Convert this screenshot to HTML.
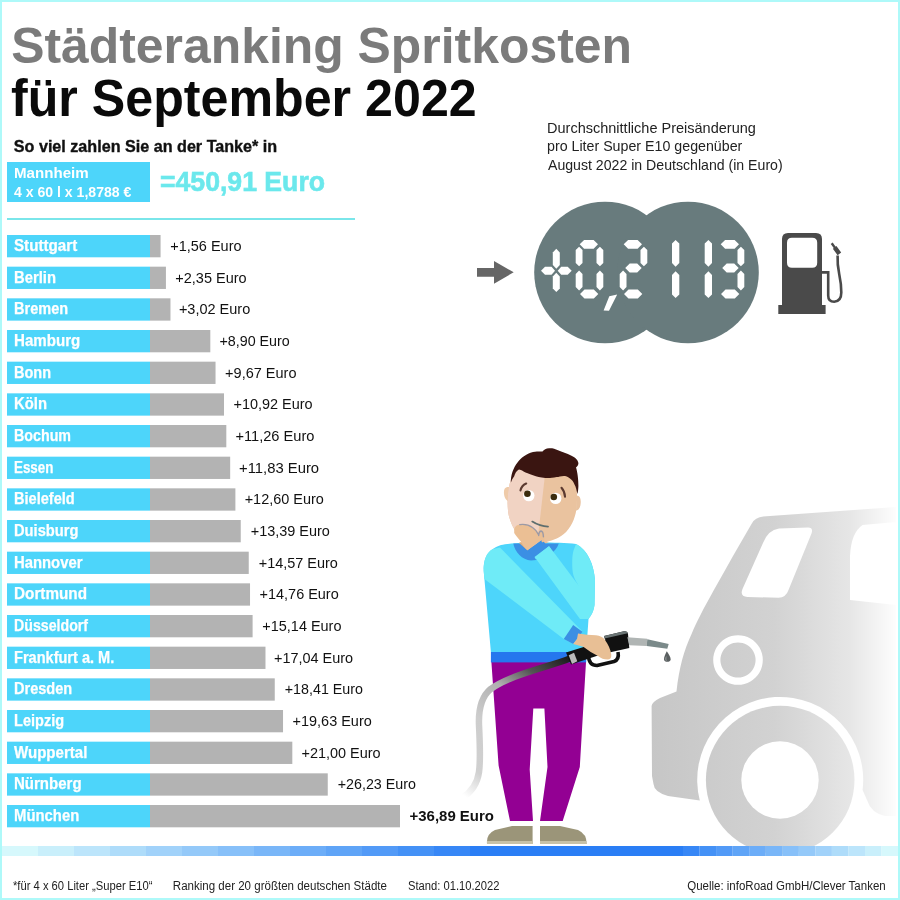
<!DOCTYPE html>
<html><head><meta charset="utf-8"><style>
html,body{margin:0;padding:0;background:#fff;width:900px;height:900px;overflow:hidden}
svg{display:block;will-change:transform}
text{font-family:"Liberation Sans",sans-serif}
</style></head><body>
<svg width="900" height="900" viewBox="0 0 900 900">
<rect x="0" y="0" width="900" height="900" fill="#fff"/>
<text id="title1" x="11.20" y="62.7" font-size="50.5" font-weight="bold" fill="#7b7b7b" textLength="620.78" lengthAdjust="spacingAndGlyphs">Städteranking Spritkosten</text>
<text id="title2" x="11.00" y="115.5" font-size="51" font-weight="bold" fill="#0a0a0a" textLength="465.69" lengthAdjust="spacingAndGlyphs">für September 2022</text>
<text id="sub" x="13.80" y="151.5" font-size="16.5" font-weight="bold" fill="#111" stroke="#111" stroke-width="0.35" textLength="263.39" lengthAdjust="spacingAndGlyphs">So viel zahlen Sie an der Tanke* in</text>
<rect x="7" y="162" width="143" height="40" fill="#4dd5fa"/>
<text id="mann1" x="14.00" y="178" font-size="15.5" font-weight="bold" fill="#fff" textLength="74.71" lengthAdjust="spacingAndGlyphs">Mannheim</text>
<text id="mann2" x="14.00" y="196.5" font-size="15" font-weight="bold" fill="#fff" textLength="117.41" lengthAdjust="spacingAndGlyphs">4 x 60 l x 1,8788 €</text>
<text id="eq" x="160.00" y="190.8" font-size="28" font-weight="bold" fill="#6be8ec" stroke="#6be8ec" stroke-width="0.6" textLength="165.01" lengthAdjust="spacingAndGlyphs">=450,91 Euro</text>
<rect x="7" y="218" width="348" height="2" fill="#7ae6ea"/>
<text id="r1" x="547.00" y="132.8" font-size="15" fill="#222" textLength="208.87" lengthAdjust="spacingAndGlyphs">Durchschnittliche Preisänderung</text>
<text id="r2" x="547.00" y="151.2" font-size="15" fill="#222" textLength="195.34" lengthAdjust="spacingAndGlyphs">pro Liter Super E10 gegenüber</text>
<text id="r3" x="548.00" y="169.8" font-size="15" fill="#222" textLength="234.64" lengthAdjust="spacingAndGlyphs">August 2022 in Deutschland (in Euro)</text>
<rect x="7" y="235.00" width="143" height="22.3" fill="#4dd5fa"/><rect x="150" y="235.00" width="10.57" height="22.3" fill="#b3b3b3"/>
<text id="city0" x="14.00" y="251.0" font-size="15.6" font-weight="bold" fill="#fff" stroke="#fff" stroke-width="0.25" textLength="63.18" lengthAdjust="spacingAndGlyphs">Stuttgart</text>
<text id="val0" x="170.21" y="251.0" font-size="15" fill="#111" textLength="71.39" lengthAdjust="spacingAndGlyphs">+1,56 Euro</text>
<rect x="7" y="266.67" width="143" height="22.3" fill="#4dd5fa"/><rect x="150" y="266.67" width="15.93" height="22.3" fill="#b3b3b3"/>
<text id="city1" x="14.00" y="282.67" font-size="15.6" font-weight="bold" fill="#fff" stroke="#fff" stroke-width="0.25" textLength="41.95" lengthAdjust="spacingAndGlyphs">Berlin</text>
<text id="val1" x="175.28" y="282.67" font-size="15" fill="#111" textLength="71.35" lengthAdjust="spacingAndGlyphs">+2,35 Euro</text>
<rect x="7" y="298.33" width="143" height="22.3" fill="#4dd5fa"/><rect x="150" y="298.33" width="20.47" height="22.3" fill="#b3b3b3"/>
<text id="city2" x="14.00" y="314.33" font-size="15.6" font-weight="bold" fill="#fff" stroke="#fff" stroke-width="0.25" textLength="54.09" lengthAdjust="spacingAndGlyphs">Bremen</text>
<text id="val2" x="178.90" y="314.33" font-size="15" fill="#111" textLength="71.38" lengthAdjust="spacingAndGlyphs">+3,02 Euro</text>
<rect x="7" y="330.00" width="143" height="22.3" fill="#4dd5fa"/><rect x="150" y="330.00" width="60.32" height="22.3" fill="#b3b3b3"/>
<text id="city3" x="14.00" y="346.0" font-size="15.6" font-weight="bold" fill="#fff" stroke="#fff" stroke-width="0.25" textLength="66.25" lengthAdjust="spacingAndGlyphs">Hamburg</text>
<text id="val3" x="219.45" y="346.0" font-size="15" fill="#111" textLength="70.33" lengthAdjust="spacingAndGlyphs">+8,90 Euro</text>
<rect x="7" y="361.67" width="143" height="22.3" fill="#4dd5fa"/><rect x="150" y="361.67" width="65.53" height="22.3" fill="#b3b3b3"/>
<text id="city4" x="14.00" y="377.67" font-size="15.6" font-weight="bold" fill="#fff" stroke="#fff" stroke-width="0.25" textLength="37.04" lengthAdjust="spacingAndGlyphs">Bonn</text>
<text id="val4" x="225.10" y="377.67" font-size="15" fill="#111" textLength="71.39" lengthAdjust="spacingAndGlyphs">+9,67 Euro</text>
<rect x="7" y="393.34" width="143" height="22.3" fill="#4dd5fa"/><rect x="150" y="393.34" width="74.00" height="22.3" fill="#b3b3b3"/>
<text id="city5" x="14.00" y="409.34" font-size="15.6" font-weight="bold" fill="#fff" stroke="#fff" stroke-width="0.25" textLength="32.95" lengthAdjust="spacingAndGlyphs">Köln</text>
<text id="val5" x="233.51" y="409.34" font-size="15" fill="#111" textLength="79.15" lengthAdjust="spacingAndGlyphs">+10,92 Euro</text>
<rect x="7" y="425.00" width="143" height="22.3" fill="#4dd5fa"/><rect x="150" y="425.00" width="76.31" height="22.3" fill="#b3b3b3"/>
<text id="city6" x="14.00" y="441.0" font-size="15.6" font-weight="bold" fill="#fff" stroke="#fff" stroke-width="0.25" textLength="57.00" lengthAdjust="spacingAndGlyphs">Bochum</text>
<text id="val6" x="235.43" y="441.0" font-size="15" fill="#111" textLength="79.07" lengthAdjust="spacingAndGlyphs">+11,26 Euro</text>
<rect x="7" y="456.67" width="143" height="22.3" fill="#4dd5fa"/><rect x="150" y="456.67" width="80.17" height="22.3" fill="#b3b3b3"/>
<text id="city7" x="14.00" y="472.67" font-size="15.6" font-weight="bold" fill="#fff" stroke="#fff" stroke-width="0.25" textLength="39.39" lengthAdjust="spacingAndGlyphs">Essen</text>
<text id="val7" x="239.01" y="472.67" font-size="15" fill="#111" textLength="80.11" lengthAdjust="spacingAndGlyphs">+11,83 Euro</text>
<rect x="7" y="488.34" width="143" height="22.3" fill="#4dd5fa"/><rect x="150" y="488.34" width="85.39" height="22.3" fill="#b3b3b3"/>
<text id="city8" x="14.00" y="504.34" font-size="15.6" font-weight="bold" fill="#fff" stroke="#fff" stroke-width="0.25" textLength="60.74" lengthAdjust="spacingAndGlyphs">Bielefeld</text>
<text id="val8" x="244.67" y="504.34" font-size="15" fill="#111" textLength="79.18" lengthAdjust="spacingAndGlyphs">+12,60 Euro</text>
<rect x="7" y="520.00" width="143" height="22.3" fill="#4dd5fa"/><rect x="150" y="520.00" width="90.74" height="22.3" fill="#b3b3b3"/>
<text id="city9" x="14.00" y="536.0" font-size="15.6" font-weight="bold" fill="#fff" stroke="#fff" stroke-width="0.25" textLength="64.42" lengthAdjust="spacingAndGlyphs">Duisburg</text>
<text id="val9" x="250.73" y="536.0" font-size="15" fill="#111" textLength="79.15" lengthAdjust="spacingAndGlyphs">+13,39 Euro</text>
<rect x="7" y="551.67" width="143" height="22.3" fill="#4dd5fa"/><rect x="150" y="551.67" width="98.74" height="22.3" fill="#b3b3b3"/>
<text id="city10" x="14.00" y="567.67" font-size="15.6" font-weight="bold" fill="#fff" stroke="#fff" stroke-width="0.25" textLength="68.48" lengthAdjust="spacingAndGlyphs">Hannover</text>
<text id="val10" x="258.72" y="567.67" font-size="15" fill="#111" textLength="79.15" lengthAdjust="spacingAndGlyphs">+14,57 Euro</text>
<rect x="7" y="583.34" width="143" height="22.3" fill="#4dd5fa"/><rect x="150" y="583.34" width="100.03" height="22.3" fill="#b3b3b3"/>
<text id="city11" x="14.00" y="599.34" font-size="15.6" font-weight="bold" fill="#fff" stroke="#fff" stroke-width="0.25" textLength="73.04" lengthAdjust="spacingAndGlyphs">Dortmund</text>
<text id="val11" x="259.59" y="599.34" font-size="15" fill="#111" textLength="79.15" lengthAdjust="spacingAndGlyphs">+14,76 Euro</text>
<rect x="7" y="615.00" width="143" height="22.3" fill="#4dd5fa"/><rect x="150" y="615.00" width="102.60" height="22.3" fill="#b3b3b3"/>
<text id="city12" x="14.00" y="631.0" font-size="15.6" font-weight="bold" fill="#fff" stroke="#fff" stroke-width="0.25" textLength="74.02" lengthAdjust="spacingAndGlyphs">Düsseldorf</text>
<text id="val12" x="262.31" y="631.0" font-size="15" fill="#111" textLength="79.18" lengthAdjust="spacingAndGlyphs">+15,14 Euro</text>
<rect x="7" y="646.67" width="143" height="22.3" fill="#4dd5fa"/><rect x="150" y="646.67" width="115.48" height="22.3" fill="#b3b3b3"/>
<text id="city13" x="14.00" y="662.67" font-size="15.6" font-weight="bold" fill="#fff" stroke="#fff" stroke-width="0.25" textLength="100.27" lengthAdjust="spacingAndGlyphs">Frankfurt a. M.</text>
<text id="val13" x="273.94" y="662.67" font-size="15" fill="#111" textLength="79.19" lengthAdjust="spacingAndGlyphs">+17,04 Euro</text>
<rect x="7" y="678.34" width="143" height="22.3" fill="#4dd5fa"/><rect x="150" y="678.34" width="124.76" height="22.3" fill="#b3b3b3"/>
<text id="city14" x="14.00" y="694.34" font-size="15.6" font-weight="bold" fill="#fff" stroke="#fff" stroke-width="0.25" textLength="58.25" lengthAdjust="spacingAndGlyphs">Dresden</text>
<text id="val14" x="284.79" y="694.34" font-size="15" fill="#111" textLength="78.13" lengthAdjust="spacingAndGlyphs">+18,41 Euro</text>
<rect x="7" y="710.00" width="143" height="22.3" fill="#4dd5fa"/><rect x="150" y="710.00" width="133.03" height="22.3" fill="#b3b3b3"/>
<text id="city15" x="14.00" y="726.0" font-size="15.6" font-weight="bold" fill="#fff" stroke="#fff" stroke-width="0.25" textLength="50.11" lengthAdjust="spacingAndGlyphs">Leipzig</text>
<text id="val15" x="292.60" y="726.0" font-size="15" fill="#111" textLength="79.15" lengthAdjust="spacingAndGlyphs">+19,63 Euro</text>
<rect x="7" y="741.67" width="143" height="22.3" fill="#4dd5fa"/><rect x="150" y="741.67" width="142.32" height="22.3" fill="#b3b3b3"/>
<text id="city16" x="14.00" y="757.67" font-size="15.6" font-weight="bold" fill="#fff" stroke="#fff" stroke-width="0.25" textLength="73.35" lengthAdjust="spacingAndGlyphs">Wuppertal</text>
<text id="val16" x="301.45" y="757.67" font-size="15" fill="#111" textLength="79.15" lengthAdjust="spacingAndGlyphs">+21,00 Euro</text>
<rect x="7" y="773.34" width="143" height="22.3" fill="#4dd5fa"/><rect x="150" y="773.34" width="177.76" height="22.3" fill="#b3b3b3"/>
<text id="city17" x="14.00" y="789.34" font-size="15.6" font-weight="bold" fill="#fff" stroke="#fff" stroke-width="0.25" textLength="67.56" lengthAdjust="spacingAndGlyphs">Nürnberg</text>
<text id="val17" x="337.78" y="789.34" font-size="15" fill="#111" textLength="78.13" lengthAdjust="spacingAndGlyphs">+26,23 Euro</text>
<rect x="7" y="805.01" width="143" height="22.3" fill="#4dd5fa"/><rect x="150" y="805.01" width="250.00" height="22.3" fill="#b3b3b3"/>
<text id="city18" x="14.00" y="821.01" font-size="15.6" font-weight="bold" fill="#fff" stroke="#fff" stroke-width="0.25" textLength="65.25" lengthAdjust="spacingAndGlyphs">München</text>
<text id="val18" x="409.51" y="821.01" font-size="15" font-weight="bold" fill="#111" textLength="84.48" lengthAdjust="spacingAndGlyphs">+36,89 Euro</text>
<!-- ARROW -->
<path d="M477 268 H494 V261 L513.7 272.3 L494 283.7 V276.7 H477 Z" fill="#666"/>
<!-- CIRCLES -->
<circle cx="605" cy="272.5" r="70.8" fill="#687b7d"/>
<circle cx="688" cy="272.5" r="70.8" fill="#687b7d"/>
<!-- DIGITS -->
<g fill="#fff">
<!-- plus -->
<path d="M556.3 248.7 L559.8 252.5 L559.8 265 L556.3 268.7 L552.8 265 L552.8 252.5 Z"/>
<path d="M556.3 272.7 L559.8 276.5 L559.8 288.5 L556.3 292 L552.8 288.5 L552.8 276.5 Z"/>
<path d="M541 270.7 L545 266.7 L551.5 266.7 L555 270.7 L551.5 274.7 L545 274.7 Z"/>
<path d="M557.7 270.7 L561.2 266.7 L567.7 266.7 L571.7 270.7 L567.7 274.7 L561.2 274.7 Z"/>
</g>
<!-- PUMP -->
<g fill="#4a4a4a">
<path d="M782 305.6 V239 Q782 233 788 233 H816 Q822 233 822 239 V305.6 Z M792 237.8 Q787 237.8 787 242.8 V262.8 Q787 267.8 792 267.8 H812.2 Q817.2 267.8 817.2 262.8 V242.8 Q817.2 237.8 812.2 237.8 Z" fill-rule="evenodd"/>
<rect x="778.3" y="305" width="47.3" height="9"/>
</g>
<path d="M822 272.4 H828.2 V295.5 Q828.2 301.8 834.2 301.8 Q841.3 301.3 841.3 292.5 Q841.3 284 839.2 274 Q837.2 264 837.6 255.5" fill="none" stroke="#4a4a4a" stroke-width="2.6"/>
<path d="M832.67 242.59 L836.20 247.44 L834.26 248.86 L830.73 244.01 Z M836.42 246.06 L841.18 252.61 L837.62 255.19 L832.86 248.64 Z" fill="#4a4a4a"/>
<!-- CAR -->
<defs>
<linearGradient id="carg" gradientUnits="userSpaceOnUse" x1="650" y1="0" x2="900" y2="0">
<stop offset="0" stop-color="#c6c6c6"/>
<stop offset="0.5" stop-color="#d2d2d2"/>
<stop offset="0.8" stop-color="#e6e6e6"/>
<stop offset="1" stop-color="#ffffff"/>
</linearGradient>
<linearGradient id="hoseg" gradientUnits="userSpaceOnUse" x1="575" y1="655" x2="470" y2="800">
<stop offset="0" stop-color="#111"/>
<stop offset="0.22" stop-color="#555"/>
<stop offset="0.38" stop-color="#b0b0b0"/>
<stop offset="0.6" stop-color="#cdcdcd"/>
<stop offset="0.85" stop-color="#d0d0d0"/>
<stop offset="1" stop-color="#fff"/>
</linearGradient>
<clipPath id="faceclip"><path d="M512.5 476 C 509 483, 507.5 492, 507.6 503.6 C 507.8 511, 508.5 515, 509.4 517.8 C 511 523, 512.5 526, 514.2 529.1 C 518 537, 522 543, 528 546.5 C 536 546, 542 543, 548.2 541.4 C 552 540.5, 554 539.8, 556.7 538.5 C 560 537, 563 534.5, 566.1 531.9 C 570 527.5, 572 523.5, 573.7 519.7 C 575.5 515, 576.3 511, 576.5 508.3 C 577 503, 577.2 498, 577 494.2 L 576 466 L 520 466 L 518 470 Z"/></clipPath>
</defs>
<path fill="url(#carg)" fill-rule="evenodd" d="
M763 516.5 L896 507 L896 816 L885 816 Q871 813 867 800 L862.6 790
A83 83 0 1 0 699.8 800.5 L668 796 Q654 792 653.5 784 L652 776 L651.6 706 Q652 702 660 698 L676.5 691.6 C 679 668, 684 650, 692 633 C 701 612, 714 590, 733 556 L751.5 524 Q755 517 763.5 516.5 Z
M779 528.5 L808 527.5 Q813.5 527.5 811.5 533.5 L788.5 590 Q786 597.5 778.5 597.8 L747.5 597 Q739.5 596.5 742.5 589 L763 543 Q768 530 779 528.5 Z
M862.5 525 L896 522 L896 605 L850 600 L850 556 Q851 533 862.5 525 Z
M738 635.2 A24.8 24.8 0 1 0 738.01 635.2 Z M738 642.4 A17.6 17.6 0 1 1 737.99 642.4 Z
"/>
<circle cx="780.2" cy="780" r="74.3" fill="url(#carg)"/>
<circle cx="780" cy="780" r="38.7" fill="#fff"/>
<!-- SHOES -->
<path fill="#9b9579" d="M487 844 Q486 834 495 830 L512 826 L532.6 826 L532.6 844 Z"/>
<path fill="#9b9579" d="M540 826 L560 826 L578 830 Q587 834 586.6 844 L540 844 Z"/>
<rect x="487" y="841" width="45.6" height="3" fill="#c8c2a8"/>
<rect x="540" y="841" width="46.6" height="3" fill="#c8c2a8"/>
<!-- PANTS -->
<path fill="#930093" d="M491.4 662 L586 662 L579.8 767 L562.7 821 L540 821 L547.5 767 L544.4 708.5 L533.3 708.5 L529.7 769.6 L533 821 L510 821 L498.6 765.6 Z"/>
<!-- TORSO -->
<path fill="#4dd5fb" d="M490.9 652 L483.7 571 C 483.5 560, 486 550, 501 545 C 515 542, 555 542, 576 544 C 588 550, 594 565, 595 580 L 594.5 605 C 593.5 612, 591 616, 588.5 619 L586.2 652 Z"/>
<rect x="490.9" y="652" width="95.3" height="10.4" fill="#2577ee"/>
<path fill="#3b8fe4" d="M513.3 543.5 L558.8 543.5 C 556 552, 545 560.5, 531 560.5 C 522 560, 515 552, 513.3 543.5 Z"/>
<path fill="#e8bf95" d="M519 542 L549 542 L528.4 551 Z"/>
<path fill="#6febf7" d="M500 547.5 L520 568 L582.5 631.5 L573.2 644 L563.8 639 L484.4 579 L483.7 571 C 483.5 561, 486 552, 493 549 Z"/>
<path fill="#6febf7" d="M535 557.5 L549 546 L582 590 C 576 582, 573 577, 572.5 570 C 572 562, 572 553, 574.5 548 L576 544 C 587 549, 594 565, 595 580 L 594.5 605 C 593.5 612, 591 616, 588 619 L580 619 Z"/>
<path fill="#3b8fe4" d="M573.2 625 L582.5 631.8 L573.2 644.1 L563.8 639 Z"/>
<!-- HOSE -->
<path fill="none" stroke="url(#hoseg)" stroke-width="6.5" stroke-linecap="butt" d="M570 658.5 C 545 668, 510 675, 490.6 689.1 C 480 698, 478.5 712, 479 725 C 480 745, 480 765, 479 772 C 477 786, 470 793, 462 798"/>
<!-- handle -->
<path fill="#111" d="M566 652.5 L606 640 L610 651.5 L571 664.5 Z"/>
<path fill="#b9b9b9" d="M568.7 655.3 L574 652.7 L577.3 661.3 L572 664 Z"/>
<path fill="none" stroke="#111" stroke-width="3.6" stroke-linejoin="round" d="M588.5 656 Q589 665.5 597 665.5 L614 661.5 Q619.5 659.5 618 652"/>
<path fill="#111" d="M604 636 L624 631.3 Q627.5 630.8 628 634 L629.3 648 L609.3 652.5 Z"/>
<path fill="#6b7575" d="M604 636 L624 631.3 Q627.5 630.8 627.8 633.2 L604.6 638.6 Z"/>
<path fill="#b0b5b4" d="M627.3 637.3 L647.3 638.7 L646.7 646 L629.3 645.3 Z"/>
<path fill="#7b8a8a" d="M647.3 639.3 L668.7 644 L667.3 648.7 L646.7 646 Z"/>
<path fill="#5a5f60" d="M666.8 651.3 C 668.5 654, 670.8 657, 670.7 659.5 C 670.5 662.5, 664.2 662.7, 664 659.5 C 663.8 657, 665.5 654, 666.8 651.3 Z"/>
<path fill="#9aa0a0" d="M665.5 657.5 C 665 659, 665.5 661, 666.7 661.3 C 666.2 659.5, 666.3 658, 666.5 656 Z"/>
<!-- hand -->
<path fill="#e8bf95" d="M578 633.5 C 584 634.5, 590 635, 596 635.3 C 600 635.8, 603 637, 605 640 C 608 644, 610.5 649, 611.3 654.7 C 611.5 658, 610 659.5, 607.5 659.5 C 604 659.5, 601 658.5, 598 656 L 590.7 652 L 583.3 646.7 L 573.2 644 L 577 639 Z"/>
<!-- HEAD -->
<path fill="#efcba9" d="M509.5 487 C 505 486.5, 503.5 489, 504 494 C 504.5 498, 506 501, 510 501.5 Z"/>
<path fill="#e9c3a0" d="M576.5 495.5 C 580 495.5, 581 499, 580.7 503 C 580.5 507, 579 510.5, 576 510.5 Z"/>
<g clip-path="url(#faceclip)">
<rect x="500" y="460" width="90" height="100" fill="#eac39f"/>
<path fill="#f1d3c3" d="M500 460 L545 460 L544.4 480 L539.7 521.5 L535 560 L500 560 Z"/>
</g>
<path fill="#3a1511" d="M510.9 482.8 C 510.5 476, 513 468, 517.9 462 C 521 458, 526 454, 533 452.1 C 537 451.5, 540 451.5, 542.5 451.6 C 544 449.5, 546 448.3, 549.1 448.2 C 552 448, 555 448.5, 558 450.3 C 562 452, 567 453.5, 571 455.4 C 575 457, 578 460, 578.4 463 C 578.5 465, 577.5 466, 576 467.5 C 577.5 472, 578.5 480, 578.4 486 C 578.3 489, 578 492, 577.4 494.1 C 576.5 490, 576 487, 574.6 484.7 C 573.5 481, 571 478.5, 566.1 476.2 C 562 475.5, 559 477, 556.7 477.1 C 552 478, 549 478.3, 545.3 478 C 540 477.5, 537 476.5, 533 475.2 C 529 474, 526 472.5, 523.6 471.4 C 521 470, 519.5 469.3, 518.9 469.6 C 516.5 471, 515 473.5, 514.2 476.2 C 512.5 478.5, 511.5 480.5, 510.9 482.8 Z"/>
<circle cx="528.8" cy="495.6" r="5.7" fill="#fff"/>
<circle cx="527.4" cy="493.8" r="3.3" fill="#3b2c0e"/>
<circle cx="555.7" cy="498.4" r="5.7" fill="#fff"/>
<circle cx="553.8" cy="497" r="3.3" fill="#3b2c0e"/>
<path fill="none" stroke="#5b3a30" stroke-width="2.1" stroke-linecap="round" d="M520.5 490.4 Q521.5 485.5 526.2 483.5"/>
<path fill="none" stroke="#5b3a30" stroke-width="2.1" stroke-linecap="round" d="M561.5 487.8 Q564.8 491.5 565 496.8"/>
<path fill="none" stroke="#5d6e6e" stroke-width="1.8" stroke-linecap="round" d="M532.3 521.6 Q540 526.5 548 526.6"/>
<!-- neck V -->
<path fill="#d9ae85" d="M519 543 L531 543 L527.4 550.3 Z"/>
<!-- wrist cuff of raised arm -->
<path fill="#3b8fe4" d="M527.4 550.3 L541.5 540 L548.8 546.3 L534.5 557 Z"/>
<path fill="#6febf7" d="M534.5 557 L548.8 546.3 L551 549 L536 559.5 Z"/>
<!-- chin hand -->
<path fill="#ebbf94" d="M514.2 529.1 C 515 526, 517 524.6, 519.8 524.4 C 523 524.2, 526 524.6, 528.3 525.3 C 531.5 526.5, 534 528, 535.9 530 C 537.5 531.5, 538.8 533, 539.7 533.8 C 541 532.5, 542.5 531, 543.4 531 C 544.5 533, 544.7 535, 544.4 536.7 L 544.4 540.4 C 543 542.5, 541.5 543.5, 541.5 540 L 527.4 550.3 C 525 548, 522.5 545, 520.8 541.4 C 518 538, 515.5 535, 514.2 532.9 Z"/>
<path fill="none" stroke="#9c9aa6" stroke-width="1.4" stroke-linecap="round" d="M519.8 524.6 C 524 524, 529 525, 532.5 527.5 C 535.5 529.5, 537.5 532, 538.7 535 M538.7 535.5 C 538.9 533, 539.8 531.3, 541 531 C 542.5 531.2, 543.3 533.5, 543.4 536.7"/>

<path fill="#fff" d="M579.7 244.3 L584.1 240.0 L593.6 240.0 L598.0 244.3 L593.6 248.7 L584.1 248.7 Z M599.9 246.7 L603.3 250.1 L603.3 262.9 L599.9 266.3 L596.5 262.9 L596.5 250.1 Z M599.9 270.5 L603.3 273.9 L603.3 287.1 L599.9 290.5 L596.5 287.1 L596.5 273.9 Z M580.0 294.0 L584.5 289.5 L593.8 289.5 L598.3 294.0 L593.8 298.5 L584.5 298.5 Z M579.1 270.5 L582.5 273.9 L582.5 287.1 L579.1 290.5 L575.7 287.1 L575.7 273.9 Z M579.1 246.7 L582.5 250.1 L582.5 262.9 L579.1 266.3 L575.7 262.9 L575.7 250.1 Z M623.7 244.3 L628.1 240.0 L637.6 240.0 L642.0 244.3 L637.6 248.7 L628.1 248.7 Z M643.9 246.7 L647.3 250.1 L647.3 262.9 L643.9 266.3 L640.5 262.9 L640.5 250.1 Z M625.2 268.0 L629.7 263.5 L637.2 263.5 L641.7 268.0 L637.2 272.5 L629.7 272.5 Z M623.1 270.5 L626.5 273.9 L626.5 287.1 L623.1 290.5 L619.7 287.1 L619.7 273.9 Z M624.0 294.0 L628.5 289.5 L637.8 289.5 L642.3 294.0 L637.8 298.5 L628.5 298.5 Z M720.7 244.3 L725.1 240.0 L734.6 240.0 L739.0 244.3 L734.6 248.7 L725.1 248.7 Z M740.9 246.7 L744.3 250.1 L744.3 262.9 L740.9 266.3 L737.5 262.9 L737.5 250.1 Z M722.2 268.0 L726.7 263.5 L734.2 263.5 L738.7 268.0 L734.2 272.5 L726.7 272.5 Z M740.9 270.5 L744.3 273.9 L744.3 287.1 L740.9 290.5 L737.5 287.1 L737.5 273.9 Z M721.0 294.0 L725.5 289.5 L734.8 289.5 L739.3 294.0 L734.8 298.5 L725.5 298.5 Z M675.6 240.0 L679.3 243.6 L679.3 263.1 L675.6 266.7 L672.0 263.1 L672.0 243.6 Z M675.6 271.3 L679.3 274.9 L679.3 294.4 L675.6 298.0 L672.0 294.4 L672.0 274.9 Z M708.4 240.0 L712.0 243.6 L712.0 263.1 L708.4 266.7 L704.7 263.1 L704.7 243.6 Z M708.4 271.3 L712.0 274.9 L712.0 294.4 L708.4 298.0 L704.7 294.4 L704.7 274.9 Z M609.3 296.3 L617.2 294.5 L609 310.8 L603.6 310.5 Z"/>
<rect x="2" y="846" width="36" height="10" fill="rgb(214, 248, 252)"/>
<rect x="38" y="846" width="36" height="10" fill="rgb(201, 239, 251)"/>
<rect x="74" y="846" width="36" height="10" fill="rgb(188, 229, 251)"/>
<rect x="110" y="846" width="36" height="10" fill="rgb(174, 220, 250)"/>
<rect x="146" y="846" width="36" height="10" fill="rgb(161, 210, 250)"/>
<rect x="182" y="846" width="36" height="10" fill="rgb(148, 201, 249)"/>
<rect x="218" y="846" width="36" height="10" fill="rgb(135, 192, 249)"/>
<rect x="254" y="846" width="36" height="10" fill="rgb(121, 182, 248)"/>
<rect x="290" y="846" width="36" height="10" fill="rgb(108, 173, 248)"/>
<rect x="326" y="846" width="36" height="10" fill="rgb(95, 164, 247)"/>
<rect x="362" y="846" width="36" height="10" fill="rgb(82, 154, 247)"/>
<rect x="398" y="846" width="36" height="10" fill="rgb(68, 145, 246)"/>
<rect x="434" y="846" width="36" height="10" fill="rgb(55, 135, 246)"/>
<rect x="470" y="846" width="213" height="10" fill="rgb(42, 126, 245)"/>
<rect x="683.00" y="846" width="16.6" height="10" fill="rgb(55, 135, 246)"/>
<rect x="699.54" y="846" width="16.6" height="10" fill="rgb(68, 145, 246)"/>
<rect x="716.08" y="846" width="16.6" height="10" fill="rgb(82, 154, 247)"/>
<rect x="732.62" y="846" width="16.6" height="10" fill="rgb(95, 164, 247)"/>
<rect x="749.16" y="846" width="16.6" height="10" fill="rgb(108, 173, 248)"/>
<rect x="765.70" y="846" width="16.6" height="10" fill="rgb(121, 182, 248)"/>
<rect x="782.24" y="846" width="16.6" height="10" fill="rgb(135, 192, 249)"/>
<rect x="798.78" y="846" width="16.6" height="10" fill="rgb(148, 201, 249)"/>
<rect x="815.32" y="846" width="16.6" height="10" fill="rgb(161, 210, 250)"/>
<rect x="831.86" y="846" width="16.6" height="10" fill="rgb(174, 220, 250)"/>
<rect x="848.40" y="846" width="16.6" height="10" fill="rgb(188, 229, 251)"/>
<rect x="864.94" y="846" width="16.6" height="10" fill="rgb(201, 239, 251)"/>
<rect x="881.48" y="846" width="16.6" height="10" fill="rgb(214, 248, 252)"/>
<text id="f1" x="13.00" y="889.8" font-size="12.3" fill="#222" textLength="139.43" lengthAdjust="spacingAndGlyphs">*für 4 x 60 Liter „Super E10“</text>
<text id="f2" x="172.80" y="889.8" font-size="12.3" fill="#222" textLength="214.15" lengthAdjust="spacingAndGlyphs">Ranking der 20 größten deutschen Städte</text>
<text id="f3" x="408.00" y="889.8" font-size="12.3" fill="#222" textLength="91.41" lengthAdjust="spacingAndGlyphs">Stand: 01.10.2022</text>
<text id="f4" x="687.20" y="889.8" font-size="12.3" fill="#222" textLength="198.50" lengthAdjust="spacingAndGlyphs">Quelle: infoRoad GmbH/Clever Tanken</text>
<rect x="1" y="1" width="898" height="898" fill="none" stroke="#aef9f9" stroke-width="2"/>
</svg></body></html>
